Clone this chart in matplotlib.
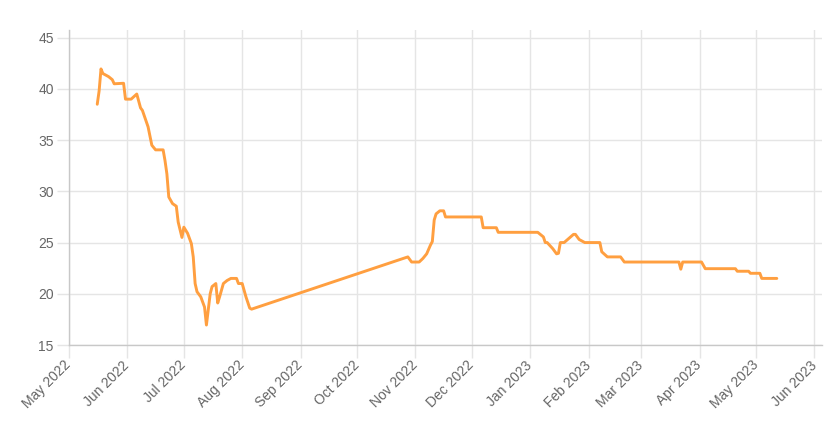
import numpy as np
import pandas as pd
import matplotlib
matplotlib.use("Agg")
import matplotlib.pyplot as plt
import matplotlib.dates as mdates

dates = [
    "2022-05-16", "2022-05-17", "2022-05-18", "2022-05-19", "2022-05-22", "2022-05-24",
    "2022-05-25", "2022-05-30", "2022-05-31", "2022-06-03", "2022-06-06", "2022-06-08",
    "2022-06-09", "2022-06-12", "2022-06-14", "2022-06-16", "2022-06-20", "2022-06-21",
    "2022-06-22", "2022-06-23", "2022-06-25", "2022-06-27", "2022-06-28", "2022-06-30",
    "2022-07-01", "2022-07-03", "2022-07-05", "2022-07-06", "2022-07-07", "2022-07-08",
    "2022-07-10", "2022-07-12", "2022-07-13", "2022-07-15", "2022-07-16", "2022-07-18",
    "2022-07-19", "2022-07-20", "2022-07-22", "2022-07-24", "2022-07-26", "2022-07-29",
    "2022-07-30", "2022-08-01", "2022-08-03", "2022-08-05", "2022-08-06", "2022-10-28",
    "2022-10-30", "2022-11-03", "2022-11-05", "2022-11-07", "2022-11-09", "2022-11-10",
    "2022-11-11", "2022-11-12", "2022-11-14", "2022-11-16", "2022-11-17", "2022-11-20",
    "2022-12-06", "2022-12-07", "2022-12-14", "2022-12-15", "2023-01-05", "2023-01-08",
    "2023-01-09", "2023-01-10", "2023-01-13", "2023-01-15", "2023-01-16", "2023-01-17",
    "2023-01-19", "2023-01-24", "2023-01-25", "2023-01-27", "2023-01-30", "2023-02-07",
    "2023-02-08", "2023-02-11", "2023-02-18", "2023-02-20", "2023-03-20", "2023-03-21",
    "2023-03-22", "2023-03-23", "2023-04-02", "2023-04-04", "2023-04-20", "2023-04-21",
    "2023-04-27", "2023-04-28", "2023-05-03", "2023-05-04", "2023-05-12",
]
values = [
    38.5, 39.8, 41.95, 41.5, 41.2, 40.9,
    40.5, 40.55, 39.0, 39.0, 39.5, 38.15,
    37.9, 36.3, 34.5, 34.05, 34.05, 33.0,
    31.7, 29.45, 28.8, 28.55, 27.0, 25.5,
    26.5, 25.9, 24.9, 23.6, 21.0, 20.2,
    19.7, 18.7, 16.95, 20.0, 20.7, 21.0,
    19.1, 19.7, 21.0, 21.3, 21.5, 21.5,
    21.0, 21.0, 19.7, 18.6, 18.5, 23.6,
    23.1, 23.1, 23.45, 23.9, 24.75, 25.1,
    27.2, 27.8, 28.1, 28.1, 27.5, 27.5,
    27.5, 26.45, 26.45, 26.0, 26.0, 25.55,
    25.0, 25.0, 24.4, 23.9, 23.95, 25.0,
    25.0, 25.8, 25.8, 25.3, 25.0, 25.0,
    24.1, 23.6, 23.6, 23.1, 23.1, 23.1,
    22.4, 23.1, 23.1, 22.45, 22.45, 22.2,
    22.2, 22.0, 22.0, 21.5, 21.5,
]
month_ticks = pd.date_range("2022-05-01", "2023-06-01", freq="MS")

grid_color = "#e5e5e5"
text_color = "#666666"

fig = plt.figure(figsize=(8.36, 4.23), dpi=100)
ax = fig.add_axes([69 / 836, 1 - 345 / 423, (822 - 69) / 836, (345 - 30) / 423])

ax.plot(pd.to_datetime(dates), values, color="#ff9f40", linewidth=2.1,
        solid_joinstyle="round", solid_capstyle="round", zorder=3)

ax.set_xlim(pd.Timestamp("2022-05-01"), pd.Timestamp("2023-06-05"))
ax.set_ylim(15, 45.75)
ax.set_yticks([15, 20, 25, 30, 35, 40, 45])
ax.set_xticks(month_ticks)
ax.xaxis.set_major_formatter(mdates.DateFormatter("%b %Y"))

ax.grid(True, color=grid_color, linewidth=1)
ax.set_axisbelow(True)
for side in ["top", "right"]:
    ax.spines[side].set_visible(False)
for side in ["left", "bottom"]:
    ax.spines[side].set_color("#c8c8c8")
    ax.spines[side].set_linewidth(1)

ax.tick_params(axis="both", length=9, width=1, color=grid_color,
               labelcolor=text_color, labelsize=10)
ax.tick_params(axis="y", pad=2)
ax.tick_params(axis="x", pad=4)
for lab in ax.get_xticklabels():
    lab.set_rotation(45)
    lab.set_ha("right")
    lab.set_va("center")
    lab.set_rotation_mode("anchor")
for lab in ax.get_xticklabels() + ax.get_yticklabels():
    lab.set_fontfamily("Liberation Sans")

fig.savefig("out.png", dpi=100)
